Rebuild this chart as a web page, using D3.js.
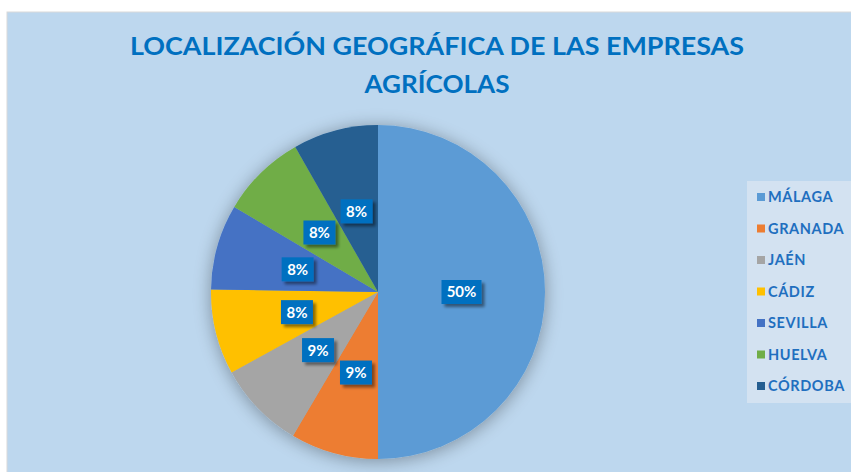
<!DOCTYPE html>
<html>
<head>
<meta charset="utf-8">
<script src="https://cdn.jsdelivr.net/npm/d3@7"></script>
<style>
  html, body { margin: 0; padding: 0; background: #fff; }
  svg { display: block; }
</style>
</head>
<body>
<div id="chart"></div>
<script>
// ---------------------------------------------------------------
// DATA (porcentajes; etiquetas redondeadas)
// ---------------------------------------------------------------
const provincias = ["MÁLAGA", "GRANADA", "JAÉN", "CÁDIZ", "SEVILLA", "HUELVA", "CÓRDOBA"];
const porcentajes = [50, 8.5, 8.5, 8.25, 8.25, 8.25, 8.25];
const colores = ["#5B9BD5", "#ED7D31", "#A5A5A5", "#FFC000", "#4472C4", "#70AD47", "#255E91"];
const titulo = ["LOCALIZACIÓN GEOGRÁFICA DE LAS EMPRESAS", "AGRÍCOLAS"];

const width = 851, height = 472;
const fontFam = "Lato, 'Open Sans', sans-serif";
const darkBlue = "#0070C0";

const svg = d3.select("#chart").append("svg")
    .attr("width", width)
    .attr("height", height);

// drop shadows
const defs = svg.append("defs");
const pieShadow = defs.append("filter").attr("id", "pieShadow")
    .attr("x", "-20%").attr("y", "-20%").attr("width", "140%").attr("height", "140%");
pieShadow.append("feGaussianBlur").attr("in", "SourceAlpha").attr("stdDeviation", 9);
pieShadow.append("feOffset").attr("dx", 0).attr("dy", 2).attr("result", "b");
pieShadow.append("feComponentTransfer").append("feFuncA").attr("type", "linear").attr("slope", 0.35);
const m1 = pieShadow.append("feMerge");
m1.append("feMergeNode");
m1.append("feMergeNode").attr("in", "SourceGraphic");

const boxShadow = defs.append("filter").attr("id", "boxShadow")
    .attr("x", "-30%").attr("y", "-30%").attr("width", "170%").attr("height", "170%");
boxShadow.append("feGaussianBlur").attr("in", "SourceAlpha").attr("stdDeviation", 1.5);
boxShadow.append("feOffset").attr("dx", 3).attr("dy", 3);
boxShadow.append("feComponentTransfer").append("feFuncA").attr("type", "linear").attr("slope", 0.45);
const m2 = boxShadow.append("feMerge");
m2.append("feMergeNode");
m2.append("feMergeNode").attr("in", "SourceGraphic");

// chart area
svg.append("rect")
    .attr("x", 7).attr("y", 12)
    .attr("width", width).attr("height", height)
    .attr("fill", "#BDD7EE")
    .attr("stroke", "#D9D9D9")
    .attr("stroke-width", 1);

// ---------------------------------------------------------------
// TITLE
// ---------------------------------------------------------------
const titleX = 437;
const titleLen = [614, 145];
titulo.forEach((t, i) => {
    svg.append("text")
        .attr("x", titleX)
        .attr("y", 55 + i * 38)
        .attr("text-anchor", "middle")
        .attr("fill", darkBlue)
        .attr("textLength", titleLen[i])
        .attr("lengthAdjust", "spacingAndGlyphs")
        .style("font-family", fontFam)
        .style("font-weight", "700")
        .style("font-size", "25px")
        .text(t);
});

// ---------------------------------------------------------------
// PIE
// ---------------------------------------------------------------
const cx = 378, cy = 292, radius = 167;

const pie = d3.pie().sort(null).value(d => d.v);
const arcs = pie(provincias.map((p, i) => ({ p, v: porcentajes[i], c: colores[i] })));
const arc = d3.arc().innerRadius(0).outerRadius(radius);
const labelArc = d3.arc().innerRadius(radius * 0.5).outerRadius(radius * 0.5);

const g = svg.append("g").attr("transform", `translate(${cx},${cy})`);

g.append("g").attr("filter", "url(#pieShadow)")
    .selectAll("path")
    .data(arcs)
    .enter()
    .append("path")
    .attr("d", arc)
    .attr("fill", d => d.data.c);

const labels = g.selectAll("g.lbl")
    .data(arcs)
    .enter()
    .append("g")
    .attr("class", "lbl")
    .attr("transform", d => `translate(${labelArc.centroid(d)})`);

labels.append("rect")
    .attr("x", d => d.data.v >= 10 ? -20 : -16)
    .attr("y", -12)
    .attr("width", d => d.data.v >= 10 ? 40 : 32)
    .attr("height", 24)
    .attr("fill", darkBlue)
    .attr("filter", "url(#boxShadow)");

labels.append("text")
    .attr("text-anchor", "middle")
    .attr("dy", "0.36em")
    .attr("fill", "#fff")
    .style("font-family", fontFam)
    .style("font-weight", "700")
    .style("font-size", "15px")
    .text(d => Math.round(d.data.v) + "%");

// ---------------------------------------------------------------
// LEGEND
// ---------------------------------------------------------------
const legY = d3.scalePoint().domain(provincias).range([197, 386]);

svg.append("rect")
    .attr("x", 747).attr("y", 181)
    .attr("width", 110).attr("height", 222)
    .attr("fill", "#D3E2F1");

const leg = svg.selectAll("g.leg")
    .data(provincias)
    .enter()
    .append("g")
    .attr("class", "leg")
    .attr("transform", d => `translate(757,${legY(d)})`);

leg.append("rect")
    .attr("x", 0).attr("y", -4)
    .attr("width", 8).attr("height", 8)
    .attr("fill", (d, i) => colores[i]);

leg.append("text")
    .attr("x", 11)
    .attr("dy", "0.36em")
    .attr("fill", "#1F6FBF")
    .style("font-family", fontFam)
    .style("font-weight", "700")
    .style("font-size", "14.5px")
    .style("letter-spacing", "0.6px")
    .text(d => d);
</script>
</body>
</html>
